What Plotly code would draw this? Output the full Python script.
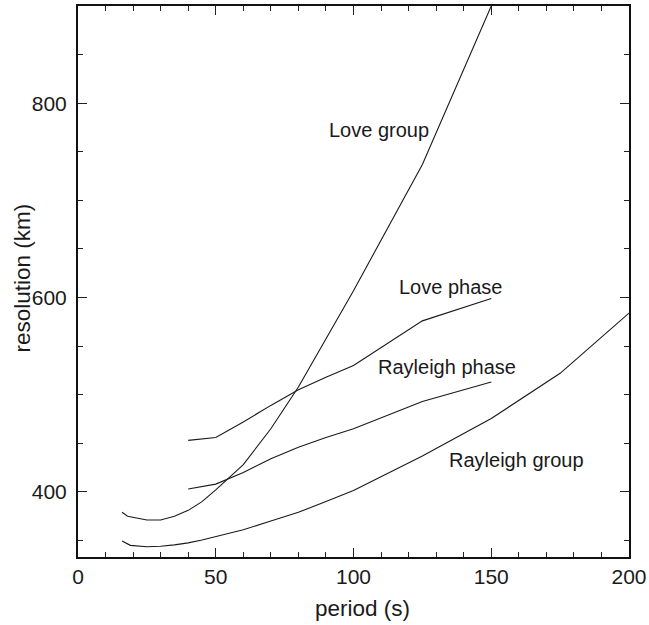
import plotly.graph_objects as go

# Data
love_group_x = [16, 18, 25, 30, 35, 40, 45, 50, 60, 70, 80, 90, 100, 125, 150]
love_group_y = [379, 375, 371, 371, 375, 381, 390, 402, 428, 465, 508, 557, 607, 737, 900]

love_phase_x = [40, 50, 60, 70, 80, 90, 100, 125, 150]
love_phase_y = [453, 456, 472, 489, 505, 518, 530, 576, 599]

rayleigh_phase_x = [40, 50, 60, 70, 80, 90, 100, 125, 150]
rayleigh_phase_y = [403, 408, 420, 434, 446, 456, 465, 493, 513]

rayleigh_group_x = [16, 19, 25, 30, 35, 40, 45, 50, 60, 70, 80, 90, 100, 125, 150, 175, 200]
rayleigh_group_y = [349.5, 345, 343.5, 344, 345.5, 347.5, 350.5, 354, 361, 370, 379, 390, 401.5, 437, 475.5, 522, 584]

label_texts = ["Love group", "Love phase", "Rayleigh phase", "Rayleigh group"]
label_x = [109.4, 135.1, 133.9, 159.3]
label_y = [772.5, 610.5, 528.7, 432.6]

x_tick_vals = [0, 50, 100, 150, 200]
y_tick_vals = [400, 600, 800]

x_title = "period (s)"
y_title = "resolution (km)"

FONT = "Liberation Sans, Arial, Helvetica, sans-serif"
LINE_COLOR = "#1a1a1a"
TEXT_COLOR = "#1a1a1a"

fig = go.Figure()
for xs, ys in [(love_group_x, love_group_y), (love_phase_x, love_phase_y),
               (rayleigh_phase_x, rayleigh_phase_y), (rayleigh_group_x, rayleigh_group_y)]:
    fig.add_trace(go.Scatter(x=xs, y=ys, mode="lines",
                             line=dict(color=LINE_COLOR, width=1.1),
                             showlegend=False, hoverinfo="skip"))

for t, lx, ly in zip(label_texts, label_x, label_y):
    fig.add_annotation(x=lx, y=ly, text=t, showarrow=False,
                       font=dict(family=FONT, size=20, color=TEXT_COLOR),
                       xanchor="center", yanchor="middle")

# Axis titles as annotations (fine positioning)
fig.add_annotation(xref="paper", yref="paper", x=0.5, y=0, xshift=9, yshift=-51,
                   text=x_title, showarrow=False,
                   font=dict(family=FONT, size=22.5, color=TEXT_COLOR),
                   xanchor="center", yanchor="middle")
fig.add_annotation(xref="paper", yref="paper", x=0, y=0.5, xshift=-56, yshift=3,
                   text=y_title, showarrow=False, textangle=-90,
                   font=dict(family=FONT, size=22.5, color=TEXT_COLOR),
                   xanchor="center", yanchor="middle")

axis_common = dict(
    showline=True, linecolor="#111", linewidth=2, mirror="ticks",
    ticks="inside", ticklen=9, tickwidth=1.3, tickcolor="#222",
    showgrid=False, zeroline=False,
    tickfont=dict(family=FONT, size=21, color=TEXT_COLOR),
)

fig.update_xaxes(
    range=[0, 200], tickvals=x_tick_vals,
    minor=dict(ticks="inside", ticklen=5, dtick=10, tick0=0, tickwidth=1.1, tickcolor="#222", showgrid=False),
    **axis_common,
)
fig.update_yaxes(
    range=[333, 900], tickvals=y_tick_vals, ticklabelstandoff=5,
    minor=dict(ticks="inside", ticklen=5, dtick=50, tick0=0, tickwidth=1.1, tickcolor="#222", showgrid=False),
    **axis_common,
)

fig.update_layout(
    width=649, height=625,
    margin=dict(l=78, r=20, t=6, b=68, autoexpand=False),
    plot_bgcolor="white", paper_bgcolor="white",
    font=dict(family=FONT),
)

fig.write_html(
    "out.html",
    config={"displayModeBar": False},
    post_script="document.body.style.margin='0';document.body.style.overflow='hidden';",
)
